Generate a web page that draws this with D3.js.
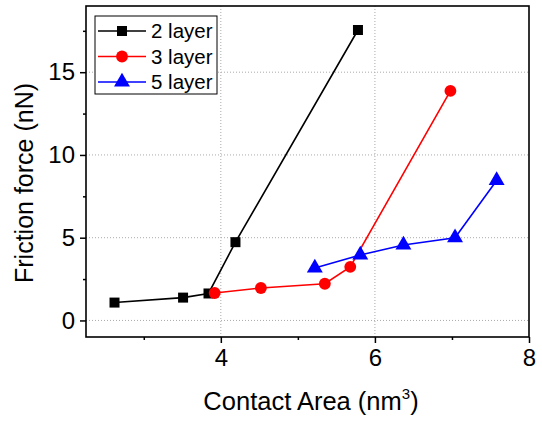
<!DOCTYPE html>
<html>
<head>
<meta charset="utf-8">
<script src="https://cdn.jsdelivr.net/npm/d3@7"></script>
<style>
  body { margin: 0; background: #fff; }
  text { font-family: "Liberation Sans", Arial, sans-serif; }
</style>
</head>
<body>
<div id="chart"></div>
<script>
// data
const layer2 = [[2.62, 1.08], [3.51, 1.38], [3.84, 1.63], [4.19, 4.73], [5.78, 17.55]];
const layer3 = [[3.92, 1.66], [4.52, 1.96], [5.35, 2.22], [5.68, 3.24], [6.98, 13.87]];
const layer5 = [[5.22, 3.17], [5.81, 3.96], [6.37, 4.56], [7.04, 5.0], [7.58, 8.46]];
const seriesNames = ["2 layer", "3 layer", "5 layer"];
const xMajor = [4, 6, 8];
const xMinor = [3, 5, 7];
const yMajor = [0, 5, 10, 15];
const yMinor = [2.5, 7.5, 12.5, 17.5];

var width = 542;
var height = 421;
var pL = 86, pR = 529, pT = 6, pB = 337;//plot box

const svg = d3.select("#chart")
    .append("svg")
    .attr("width", width)
    .attr("height", height)
    .style("background-color", "#fff");

const x = d3.scaleLinear().domain([2.25, 8]).range([pL, pR]);
const y = d3.scaleLinear().domain([-1, 19]).range([pB, pT]);

// grid (dotted)
svg.append("g").selectAll("line")
    .data(xMajor.filter(d => d < 8))
    .enter().append("line")
    .attr("x1", d => x(d)).attr("x2", d => x(d))
    .attr("y1", pT).attr("y2", pB)
    .attr("stroke", "#aaa").attr("stroke-width", 1)
    .attr("stroke-dasharray", "1,2");
svg.append("g").selectAll("line")
    .data(yMajor)
    .enter().append("line")
    .attr("x1", pL).attr("x2", pR)
    .attr("y1", d => y(d)).attr("y2", d => y(d))
    .attr("stroke", "#aaa").attr("stroke-width", 1)
    .attr("stroke-dasharray", "1,2");

// axes
const xAxis = d3.axisBottom(x).tickValues(xMajor).tickSize(6).tickPadding(6).tickFormat(d3.format("d"));
const xAxisMinor = d3.axisBottom(x).tickValues(xMinor).tickSize(3).tickFormat("");
const yAxis = d3.axisLeft(y).tickValues(yMajor).tickSize(6).tickPadding(5).tickFormat(d3.format("d"));
const yAxisMinor = d3.axisLeft(y).tickValues(yMinor).tickSize(3).tickFormat("");

function styleAxis(g) {
    g.select(".domain").remove();
    g.selectAll(".tick line").attr("stroke", "#000").attr("stroke-width", 1.5);
    g.selectAll(".tick text")
        .attr("fill", "#000")
        .style("font-size", "24px")
        .style("font-family", "Liberation Sans, Arial, sans-serif");
}
svg.append("g").attr("transform", `translate(0,${pB})`).call(xAxis).call(styleAxis);
svg.append("g").attr("transform", `translate(0,${pB})`).call(xAxisMinor).call(styleAxis);
svg.append("g").attr("transform", `translate(${pL},0)`).call(yAxis).call(styleAxis);
svg.append("g").attr("transform", `translate(${pL},0)`).call(yAxisMinor).call(styleAxis);

// frame
svg.append("rect")
    .attr("x", pL).attr("y", pT)
    .attr("width", pR - pL).attr("height", pB - pT)
    .attr("fill", "none").attr("stroke", "#000").attr("stroke-width", 1.6);

// series
const colors = ["#000000", "#ff0000", "#0000ff"];
const symbols = [d3.symbolSquare, d3.symbolCircle, d3.symbolTriangle];
const sizes = [100, 110, 110];
const allSeries = [layer2, layer3, layer5];

const line = d3.line().x(d => x(d[0])).y(d => y(d[1]));

allSeries.forEach(function (data, i) {
    svg.append("path")
        .datum(data)
        .attr("d", line)
        .attr("fill", "none")
        .attr("stroke", colors[i])
        .attr("stroke-width", 1.6);
    svg.selectAll(".pt" + i)
        .data(data)
        .enter().append("path")
        .attr("class", "pt" + i)
        .attr("d", d3.symbol().type(symbols[i]).size(sizes[i]))
        .attr("transform", d => `translate(${x(d[0])},${y(d[1])})`)
        .attr("fill", colors[i]);
});

// legend
const lg = svg.append("g");
lg.append("rect")
    .attr("x", 95).attr("y", 16)
    .attr("width", 122).attr("height", 78)
    .attr("fill", "#fff").attr("stroke", "#000").attr("stroke-width", 1);
seriesNames.forEach(function (name, i) {
    var ly = 31 + i * 25.5;
    lg.append("line")
        .attr("x1", 98).attr("x2", 146)
        .attr("y1", ly).attr("y2", ly)
        .attr("stroke", colors[i]).attr("stroke-width", 1.6);
    lg.append("path")
        .attr("d", d3.symbol().type(symbols[i]).size(sizes[i]))
        .attr("transform", `translate(122,${ly})`)
        .attr("fill", colors[i]);
    lg.append("text")
        .attr("x", 151).attr("y", ly + 7)
        .attr("fill", "#000")
        .style("font-size", "20.5px")
        .text(name);
});

// axis titles
const xt = svg.append("text")
    .attr("x", 311)
    .attr("y", 410)
    .attr("text-anchor", "middle")
    .attr("fill", "#000")
    .style("font-size", "25.5px");
xt.append("tspan").text("Contact Area (nm");
xt.append("tspan").attr("dy", -11).style("font-size", "15px").text("3");
xt.append("tspan").attr("dy", 11).text(")");

svg.append("text")
    .attr("transform", `translate(33,183) rotate(-90)`)
    .attr("text-anchor", "middle")
    .attr("fill", "#000")
    .style("font-size", "25px")
    .text("Friction force (nN)");
</script>
</body>
</html>
